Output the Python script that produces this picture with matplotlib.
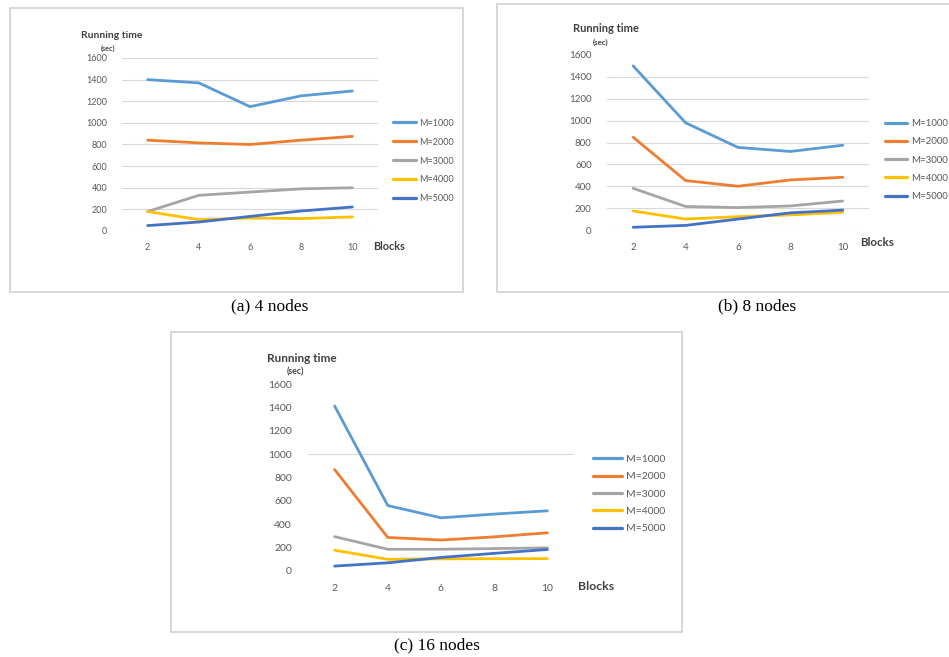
import matplotlib
matplotlib.use("Agg")
import matplotlib.pyplot as plt
from matplotlib.patches import Rectangle

# data
blocks = [2, 4, 6, 8, 10]
series_names = ["M=1000", "M=2000", "M=3000", "M=4000", "M=5000"]
colors = ["#5B9BD5", "#ED7D31", "#A5A5A5", "#FFC000", "#4472C4"]
y_ticks = [0, 200, 400, 600, 800, 1000, 1200, 1400, 1600]

# (a) 4 nodes
nodes4 = [
    [1400, 1370, 1150, 1250, 1295],
    [840, 815, 800, 840, 875],
    [180, 330, 360, 390, 400],
    [180, 105, 120, 115, 130],
    [50, 83, 135, 185, 222],
]
# (b) 8 nodes
nodes8 = [
    [1500, 980, 755, 718, 775],
    [848, 452, 400, 458, 482],
    [381, 215, 205, 220, 265],
    [174, 100, 122, 138, 162],
    [25, 42, 100, 157, 182],
]
# (c) 16 nodes
nodes16 = [
    [1412, 560, 455, 487, 515],
    [868, 287, 265, 292, 327],
    [294, 186, 186, 192, 198],
    [178, 100, 104, 105, 106],
    [42, 70, 116, 151, 184],
]

W, H = 949, 657
fig = plt.figure(figsize=(W / 100, H / 100), dpi=100)
plt.rcParams['font.family'] = ['Lato', 'DejaVu Sans']


def fx(x):
    return x / W


def fy(y):
    return 1 - y / H


def box(l, t, r, b):
    return [l / W, 1 - b / H, (r - l) / W, (b - t) / H]


def panel(data, axbox, fs, grid, leg_xy, hlen, lspace, title_xy, blocks_xy, frame, caption, cap_xy):
    # outer frame
    l, t, r, b = frame
    fig.patches.append(Rectangle((fx(l), fy(b)), (r - l) / W, (b - t) / H,
                                 transform=fig.transFigure, fill=False,
                                 edgecolor="#D4D4D4", lw=1.3))
    ax = fig.add_axes(box(*axbox))
    for vals, name, c in zip(data, series_names, colors):
        ax.plot(blocks, vals, color=c, lw=2.0, label=name, solid_capstyle="round")
    ax.set_xlim(1, 11)
    ax.set_ylim(0, 1600)
    ax.set_xticks(blocks)
    ax.set_yticks(y_ticks)
    for s in ax.spines.values():
        s.set_visible(False)
    ax.tick_params(length=0, labelsize=fs, labelcolor="#595959", pad=fs + 4)
    ax.tick_params(axis="x", pad=fs + 2)
    for g in grid:
        ax.axhline(g, color="#D9D9D9", lw=0.8, zorder=0)
    ax.set_facecolor("none")
    leg = ax.legend(loc="center left", bbox_to_anchor=(fx(leg_xy[0]), fy(leg_xy[1])),
                    bbox_transform=fig.transFigure, frameon=False,
                    fontsize=fs, handlelength=hlen, labelspacing=lspace,
                    handletextpad=0.4, borderpad=0, borderaxespad=0)
    for t_ in leg.get_texts():
        t_.set_color("#595959")
    for ln in leg.get_lines():
        ln.set_linewidth(2.3)
    fig.text(fx(title_xy[0]), fy(title_xy[1]), "Running time", fontsize=fs + 1.0,
             color="#404040", fontweight="bold", ha="left", va="center")
    fig.text(fx(title_xy[0] + 20), fy(title_xy[1] + 13), "(sec)", fontsize=fs - 1.3,
             color="#404040", fontweight="bold", ha="left", va="center")
    fig.text(fx(blocks_xy[0]), fy(blocks_xy[1]), "Blocks", fontsize=fs + 1.3,
             color="#404040", fontweight="bold", ha="left", va="center")
    fig.text(fx(cap_xy[0]), fy(cap_xy[1]), caption, fontsize=12.5,
             family="Liberation Serif", ha="center", va="center", color="black")


panel(nodes4, (122, 58, 378, 231), 6.5, [0, 200, 400, 600, 800, 1000, 1200, 1400, 1600],
      (393, 161), 2.5, 1.1, (81, 35), (373, 247), (10, 8, 463, 292),
      "(a) 4 nodes", (270, 306))
panel(nodes8, (607, 55, 869, 230), 7, [0, 200, 400, 600, 800, 1000, 1200, 1400],
      (885, 160), 2.3, 0.95, (573, 29), (860, 243), (497, 4, 960, 292),
      "(b) 8 nodes", (757, 306))
panel(nodes16, (308, 384, 574, 571), 7.5, [1000],
      (593, 494), 2.8, 0.78, (267, 359), (578, 587), (171, 332, 682, 632),
      "(c) 16 nodes", (437, 645))

fig.savefig("out.png", dpi=100, facecolor="white")
